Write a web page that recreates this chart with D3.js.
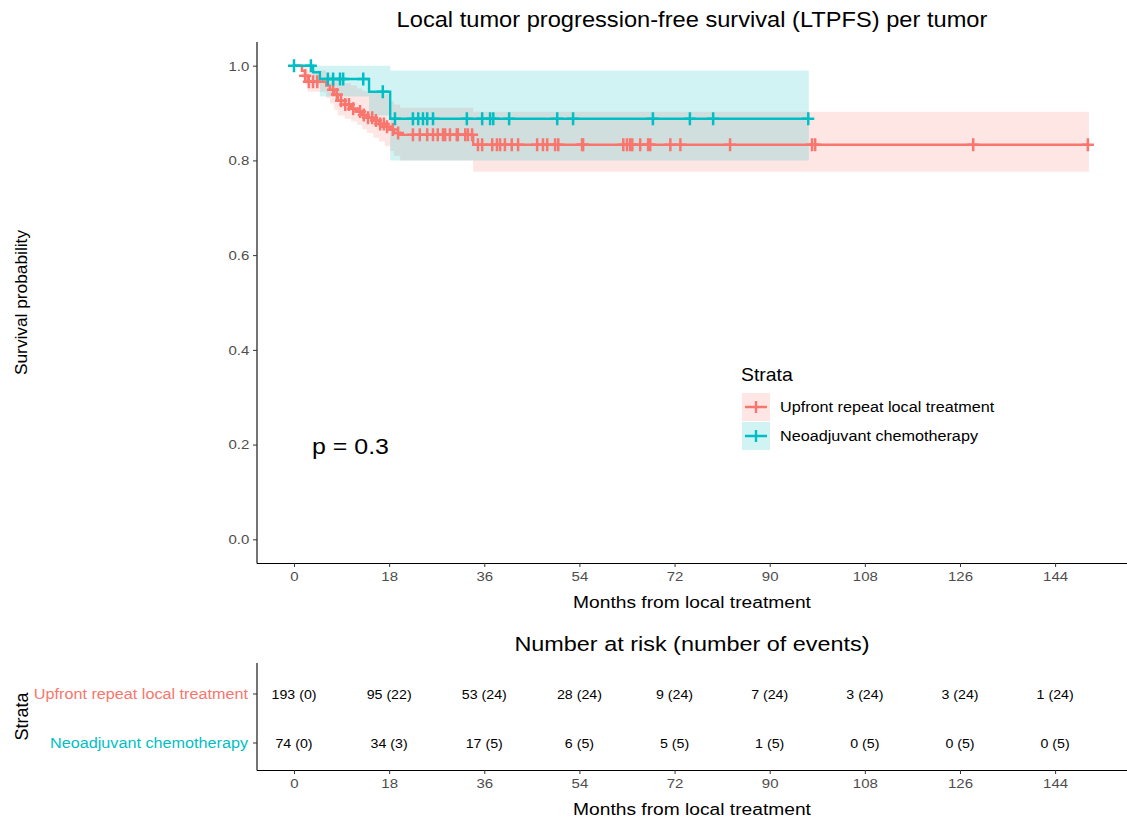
<!DOCTYPE html>
<html>
<head>
<meta charset="utf-8">
<script src="https://cdn.jsdelivr.net/npm/d3@7"></script>
<style>
  body { margin: 0; background: #fff; }
  text { font-family: "Liberation Sans", Arial, sans-serif; }
</style>
</head>
<body>
<script>
// strata and colours
const strata = ["Upfront repeat local treatment", "Neoadjuvant chemotherapy"];
const colors = ["#F8766D", "#00BFC4"];

// Upfront repeat local treatment: KM steps
const upfrontTime  = [0, 1.5, 2.1, 2.6, 6.1, 6.8, 7.6, 8.3, 9.6, 10.8, 11.9, 12.9, 13.8, 15.0, 16.1, 17.2, 18.2, 18.9, 20.1, 33.9];
const upfrontSurv  = [1, 0.989, 0.979, 0.966, 0.958, 0.949, 0.939, 0.926, 0.918, 0.909, 0.903, 0.896, 0.890, 0.884, 0.877, 0.871, 0.865, 0.858, 0.854, 0.833];
const upfrontLower = [1, 0.975, 0.960, 0.945, 0.932, 0.920, 0.907, 0.895, 0.888, 0.882, 0.875, 0.866, 0.858, 0.848, 0.840, 0.830, 0.820, 0.810, 0.800, 0.776];
const upfrontUpper = [1, 1, 1, 0.99, 0.985, 0.98, 0.975, 0.968, 0.963, 0.958, 0.952, 0.947, 0.943, 0.943, 0.942, 0.94, 0.925, 0.918, 0.911, 0.903];
const upfrontEnd = 150.4;
const upfrontCensor = [2.1, 2.8, 3.6, 4.4, 7.4, 8.1, 8.9, 9.7, 10.4, 11.2, 12.5, 13.2, 14.0, 14.8, 15.5, 16.3, 17.0, 17.6,
  18.7, 19.7, 22.5, 23.8, 25.2, 26.3, 27.2, 28.2, 28.6, 29.5, 30.8, 31.0, 32.4, 32.9, 33.7,
  34.8, 35.6, 37.5, 38.4, 39.0, 39.9, 41.2, 42.4, 46.0, 47.1, 47.9, 49.4, 50.0, 54.5, 54.7,
  62.3, 63.0, 63.6, 64.0, 65.5, 67.0, 67.4, 71.2, 73.1, 82.5, 98.0, 98.6, 128.5, 150.2];

// Neoadjuvant chemotherapy
const neoTime  = [0, 3.6, 4.9, 14.2, 18.2];
const neoSurv  = [1, 0.986, 0.972, 0.945, 0.888];
const neoLower = [1, 0.96, 0.935, 0.895, 0.80];
const neoUpper = [1, 1, 1, 1, 0.99];
const neoEnd = 97.4;
const neoCensor = [0, 3.2, 6.4, 7.4, 8.7, 9.3, 13.1, 16.8, 19.1, 22.5, 23.5, 24.4, 25.2, 26.3, 32.7,
  35.6, 37.1, 37.7, 40.7, 49.8, 52.8, 67.9, 74.9, 79.3, 97.3];

// risk table
const riskTimes = [0, 18, 36, 54, 72, 90, 108, 126, 144];
const upfrontAtRisk = [193, 95, 53, 28, 9, 7, 3, 3, 1];
const upfrontEvents = [0, 22, 24, 24, 24, 24, 24, 24, 24];
const neoAtRisk = [74, 34, 17, 6, 5, 1, 0, 0, 0];
const neoEvents = [0, 3, 5, 5, 5, 5, 5, 5, 5];

const xTicks = [0, 18, 36, 54, 72, 90, 108, 126, 144];
const yTicks = [0, 0.2, 0.4, 0.6, 0.8, 1.0];
const pValue = "p = 0.3";

const groups = [
  {name: strata[0], color: colors[0], time: upfrontTime, surv: upfrontSurv, lower: upfrontLower, upper: upfrontUpper, end: upfrontEnd, censor: upfrontCensor},
  {name: strata[1], color: colors[1], time: neoTime, surv: neoSurv, lower: neoLower, upper: neoUpper, end: neoEnd, censor: neoCensor}
];

const width = 1127, height = 822;
const svg = d3.select("body").append("svg")
  .attr("width", width).attr("height", height);

// the original picture is a bit wider than tall, text looks stretched
const sx = 1.11;
function addText(parent, px, py, str, size, anchor, color) {
  return parent.append("g").attr("transform", `translate(${px},${py}) scale(${sx},1)`)
    .append("text").attr("text-anchor", anchor || "start").attr("font-size", size)
    .attr("fill", color || "#000").text(str);
}

const pLeft = 257, pRight = 1127, pTop = 42, pBottom = 563;
const x = d3.scaleLinear().domain([-7.0, 157.6]).range([pLeft, pRight]);
const y = d3.scaleLinear().domain([-0.05, 1.05]).range([pBottom, pTop]);

// title
addText(svg, (pLeft + pRight) / 2, 27, "Local tumor progression-free survival (LTPFS) per tumor", 21.3, "middle");

const plot = svg.append("g");

function stepPoints(g, key) {
  let pts = g.time.map((t, i) => [t, g[key][i]]);
  pts.push([g.end, g[key][g[key].length - 1]]);
  return pts;
}

// confidence bands
groups.forEach(g => {
  let pts = g.time.map((t, i) => ({t: t, lo: g.lower[i], hi: g.upper[i]}));
  pts.push({t: g.end, lo: g.lower[g.lower.length - 1], hi: g.upper[g.upper.length - 1]});
  let area = d3.area().curve(d3.curveStepAfter)
    .x(d => x(d.t)).y0(d => y(d.lo)).y1(d => y(d.hi));
  plot.append("path").attr("d", area(pts))
    .attr("fill", g.color).attr("fill-opacity", 0.18);
});

// curves
const line = d3.line().curve(d3.curveStepAfter).x(d => x(d[0])).y(d => y(d[1]));
groups.forEach(g => {
  plot.append("path").attr("d", line(stepPoints(g, "surv")))
    .attr("fill", "none").attr("stroke", g.color).attr("stroke-width", 2.4);
});

// censor marks
groups.forEach(g => {
  const survAt = t => g.surv[d3.bisectRight(g.time, t) - 1];
  g.censor.forEach(t => {
    let cx = x(t), cy = y(survAt(t));
    plot.append("path")
      .attr("d", `M${cx - 6},${cy}H${cx + 6}M${cx},${cy - 6.5}V${cy + 6.5}`)
      .attr("stroke", g.color).attr("stroke-width", 2.5).attr("fill", "none");
  });
});

// axes
const tickColor = "#4D4D4D";
function drawXAxis(yPos, yTop) {
  const ax = svg.append("g").attr("transform", `translate(0,${yPos})`)
    .call(d3.axisBottom(x).tickValues(xTicks).tickSize(4).tickPadding(4).tickFormat(d3.format("d")));
  ax.select(".domain").attr("d", `M${pLeft},0.5H${pRight}`).attr("stroke", "#000").attr("stroke-width", 1.1);
  ax.selectAll(".tick line").attr("stroke", "#333");
  ax.selectAll(".tick text").attr("font-size", 13.5).attr("fill", tickColor)
    .attr("transform", `scale(${sx},1)`)
    .attr("font-family", "Liberation Sans, Arial, sans-serif");
  svg.append("line").attr("x1", pLeft).attr("x2", pLeft).attr("y1", yTop).attr("y2", yPos + 0.5)
    .attr("stroke", "#000").attr("stroke-width", 1.1);
}

drawXAxis(pBottom, pTop);
const yAx = svg.append("g").attr("transform", `translate(${pLeft},0)`)
  .call(d3.axisLeft(y).tickValues(yTicks).tickSize(4).tickPadding(3).tickFormat(d3.format(".1f")));
yAx.select(".domain").remove();
yAx.selectAll(".tick line").attr("stroke", "#333");
yAx.selectAll(".tick text").attr("font-size", 13.5).attr("fill", tickColor)
  .attr("transform", `scale(${sx},1)`)
  .attr("font-family", "Liberation Sans, Arial, sans-serif");

addText(svg, (pLeft + pRight) / 2, 608, "Months from local treatment", 17.3, "middle");
svg.append("text").attr("transform", `translate(27,${(pTop + pBottom) / 2}) rotate(-90)`)
  .attr("text-anchor", "middle").attr("font-size", 17.3).text("Survival probability");

// p value
addText(svg, x(3.4), y(0.2) + 9, pValue, 22.5, "start");

// legend
const lg = svg.append("g").attr("transform", "translate(741,0)");
addText(lg, 0, 381, "Strata", 17.5, "start");
groups.forEach((g, i) => {
  const ky = 393 + i * 29;
  lg.append("rect").attr("x", 1).attr("y", ky).attr("width", 28).attr("height", 28)
    .attr("fill", g.color).attr("fill-opacity", 0.18);
  lg.append("path").attr("d", `M4,${ky + 14}H26M15,${ky + 8}V${ky + 20}`)
    .attr("stroke", g.color).attr("stroke-width", 2.4);
  addText(lg, 39, ky + 19, g.name, 14.6, "start");
});

// risk table
addText(svg, (pLeft + pRight) / 2, 651, "Number at risk (number of events)", 21.1, "middle");

const rTop = 663, rBottom = 770;
const ry = d3.scalePoint().domain(strata).range([694, 743]);
drawXAxis(rBottom, rTop);

const riskRows = [
  {name: strata[0], color: colors[0], atRisk: upfrontAtRisk, events: upfrontEvents},
  {name: strata[1], color: colors[1], atRisk: neoAtRisk, events: neoEvents}
];
riskRows.forEach(r => {
  const yy = ry(r.name);
  svg.append("line").attr("x1", pLeft - 4).attr("x2", pLeft).attr("y1", yy).attr("y2", yy)
    .attr("stroke", "#333");
  addText(svg, pLeft - 9, yy + 5, r.name, 14.6, "end", r.color);
  riskTimes.forEach((t, i) => {
    addText(svg, x(t), yy + 4.5, `${r.atRisk[i]} (${r.events[i]})`, 12.8, "middle", "#000");
  });
});

addText(svg, (pLeft + pRight) / 2, 815, "Months from local treatment", 17.3, "middle");
svg.append("text").attr("transform", `translate(28,${(rTop + rBottom) / 2}) rotate(-90)`)
  .attr("text-anchor", "middle").attr("font-size", 18).text("Strata");
</script>
</body>
</html>
